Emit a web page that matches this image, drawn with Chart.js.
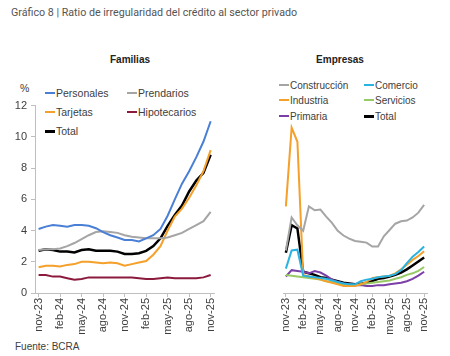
<!DOCTYPE html>
<html><head><meta charset="utf-8">
<script src="https://cdn.jsdelivr.net/npm/chart.js@4"></script>
<style>
html,body{margin:0;padding:0;background:#fff;width:450px;height:356px;overflow:hidden;}
body{position:relative;font-family:"Liberation Sans",Arial,sans-serif;color:#404040;}
.abs{position:absolute;white-space:nowrap;}
.lg{position:absolute;white-space:nowrap;line-height:14px;transform:translateY(-50%);}
.lg span{display:inline-block;width:10px;vertical-align:middle;margin-right:1px;position:relative;top:-1px;}
canvas{position:absolute;}
</style></head><body>
<div class="abs" style="left:11px;top:6px;font-family:Roboto,sans-serif;font-size:10.7px;color:#555;">Gráfico 8 | Ratio de irregularidad del crédito al sector privado</div>
<div class="abs" style="left:110px;top:54px;font-size:10px;font-weight:bold;color:#222;width:40px;text-align:center;">Familias</div>
<div class="abs" style="left:300px;top:54px;font-size:10px;font-weight:bold;color:#222;width:80px;text-align:center;">Empresas</div>
<div class="abs" style="left:20px;top:82px;font-size:10.5px;">%</div>
<div class="abs" style="left:15px;top:341px;font-size:10px;">Fuente: BCRA</div>
<div id="legF"></div><div id="legE"></div>
<canvas id="cF" width="225" height="260" style="left:0;top:95px;"></canvas>
<canvas id="cE" width="225" height="260" style="left:225px;top:95px;"></canvas>
<script>
const months = ["nov-23","dic-23","ene-24","feb-24","mar-24","abr-24","may-24","jun-24","jul-24","ago-24","sep-24","oct-24","nov-24","dic-24","ene-25","feb-25","mar-25","abr-25","may-25","jun-25","jul-25","ago-25","sep-25","oct-25","nov-25"];
const yTicks = [0,2,4,6,8,10,12];

// Familias
const personales   = [4.1,4.25,4.35,4.3,4.25,4.35,4.35,4.3,4.15,3.9,3.7,3.55,3.4,3.4,3.3,3.5,3.7,4.1,4.95,6.0,7.0,7.8,8.7,9.7,11.0];
const prendarios   = [2.75,2.8,2.8,2.85,3.0,3.2,3.45,3.7,3.9,3.95,3.9,3.85,3.7,3.6,3.55,3.5,3.5,3.5,3.55,3.7,3.85,4.1,4.35,4.6,5.2];
const tarjetas     = [1.65,1.75,1.75,1.7,1.8,1.85,2.0,2.0,1.95,1.9,1.95,1.9,1.75,1.85,1.95,2.05,2.45,3.0,4.0,4.9,5.4,6.1,6.9,7.8,9.15];
const hipotecarios = [1.15,1.15,1.05,1.05,0.95,0.85,0.9,1.0,1.0,1.0,1.0,1.0,1.0,1.0,0.95,0.9,0.9,0.95,1.0,0.95,0.95,0.95,0.95,1.0,1.15];
const totalFam     = [2.7,2.8,2.75,2.65,2.65,2.6,2.75,2.8,2.7,2.7,2.7,2.65,2.5,2.5,2.55,2.7,3.0,3.5,4.3,5.0,5.6,6.5,7.2,7.7,8.85];

// Empresas
const construccion = [2.7,4.8,4.3,3.95,5.5,5.25,5.3,4.85,4.45,3.95,3.65,3.45,3.3,3.25,3.2,2.95,2.95,3.6,4.0,4.4,4.55,4.6,4.8,5.1,5.6];
const comercio     = [1.55,2.7,2.75,1.1,1.05,1.0,0.95,0.9,0.8,0.7,0.6,0.55,0.55,0.75,0.85,0.9,1.0,1.05,1.1,1.2,1.45,1.9,2.3,2.6,2.95];
const industria    = [5.5,10.5,9.6,1.15,1.05,0.95,0.85,0.75,0.65,0.55,0.45,0.45,0.45,0.55,0.7,0.95,1.0,1.05,1.1,1.25,1.5,1.8,2.1,2.35,2.65];
const servicios    = [1.15,1.1,1.05,1.0,0.95,0.9,0.85,0.75,0.7,0.6,0.55,0.5,0.5,0.55,0.6,0.65,0.7,0.75,0.8,0.9,1.0,1.15,1.25,1.4,1.65];
const primaria     = [1.05,1.45,1.4,1.35,1.25,1.4,1.3,1.1,0.85,0.7,0.6,0.55,0.5,0.5,0.45,0.45,0.5,0.5,0.55,0.6,0.65,0.75,0.9,1.1,1.35];
const totalEmp     = [2.55,4.3,4.1,1.35,1.25,1.15,1.0,0.95,0.85,0.75,0.65,0.6,0.55,0.58,0.65,0.75,0.9,0.95,1.05,1.15,1.3,1.5,1.75,2.0,2.25];

const C = {blue:'#4a7fd6', gray:'#a5a5a5', orange:'#f5a02a', maroon:'#8c1a3c', black:'#000000', cyan:'#2ab3e0', green:'#97c965', purple:'#7b3fa8'};

const famSeries = [
  {label:'Personales', data:personales, color:C.blue, w:2},
  {label:'Prendarios', data:prendarios, color:C.gray, w:2},
  {label:'Tarjetas', data:tarjetas, color:C.orange, w:2},
  {label:'Hipotecarios', data:hipotecarios, color:C.maroon, w:2},
  {label:'Total', data:totalFam, color:C.black, w:2.5}
];
const empSeries = [
  {label:'Construcción', data:construccion, color:C.gray, w:2},
  {label:'Comercio', data:comercio, color:C.cyan, w:2},
  {label:'Industria', data:industria, color:C.orange, w:2},
  {label:'Servicios', data:servicios, color:C.green, w:2},
  {label:'Primaria', data:primaria, color:C.purple, w:2},
  {label:'Total', data:totalEmp, color:C.black, w:2.5}
];

function buildLegend(el, series, positions, fs){
  series.forEach((s,i)=>{
    const d=document.createElement('div');
    d.className='lg';
    d.style.left=positions[i][0]+'px';
    d.style.top=positions[i][1]+'px';
    d.style.fontSize=fs+'px';
    d.innerHTML='<span style="height:'+(s.w>2?3:2)+'px;background:'+s.color+'"></span>'+s.label;
    el.appendChild(d);
  });
}
buildLegend(document.getElementById('legF'), famSeries, [[45,93],[127,93],[45,112],[127,112],[45,131]], 10.5);
buildLegend(document.getElementById('legE'), empSeries, [[279,86],[364,86],[279,101],[364,101],[279,117],[364,117]], 10);

const axisColor = '#bfbfbf';
function xScale(){
  return {
    type:'category', offset:true,
    grid:{display:true, drawOnChartArea:false, drawTicks:true, tickLength:4,
      tickColor:(ctx)=> (ctx.index%3===0 ? axisColor : 'rgba(0,0,0,0)')},
    border:{display:true, color:axisColor, width:1},
    ticks:{autoSkip:false, maxRotation:90, minRotation:90, padding:1,
      color:'#404040', font:{family:'"Liberation Sans", Arial, sans-serif', size:11},
      callback:(v,i)=> (i%3===0 ? months[i] : '')},
    afterFit:(s)=>{ s.height = 62; }
  };
}
function makeChart(id, series, showY, padding){
  return new Chart(document.getElementById(id), {
    type:'line',
    data:{labels:months, datasets:series.map(s=>({label:s.label, data:s.data, borderColor:s.color, backgroundColor:s.color, borderWidth:s.w, pointRadius:0, tension:0, fill:false}))},
    options:{
      responsive:false, animation:false, devicePixelRatio:1,
      layout:{padding:padding},
      plugins:{legend:{display:false}, tooltip:{enabled:false}},
      scales:{
        x:xScale(),
        y:{min:0, max:12, display:showY,
          afterBuildTicks:(s)=>{ s.ticks = yTicks.map(v=>({value:v})); },
          grid:{display:true, drawOnChartArea:false, drawTicks:true, tickLength:4, tickColor:axisColor},
          border:{display:true, color:axisColor, width:1},
          ticks:{padding:4, color:'#404040', font:{family:'"Liberation Sans", Arial, sans-serif', size:11}},
          afterFit:(s)=>{ s.width = 35; }
        }
      }
    }
  });
}
makeChart('cF', famSeries, true, {top:9, right:7, left:0, bottom:0});
makeChart('cE', empSeries, false, {top:9, right:23, left:23, bottom:0});
</script>
</body></html>
